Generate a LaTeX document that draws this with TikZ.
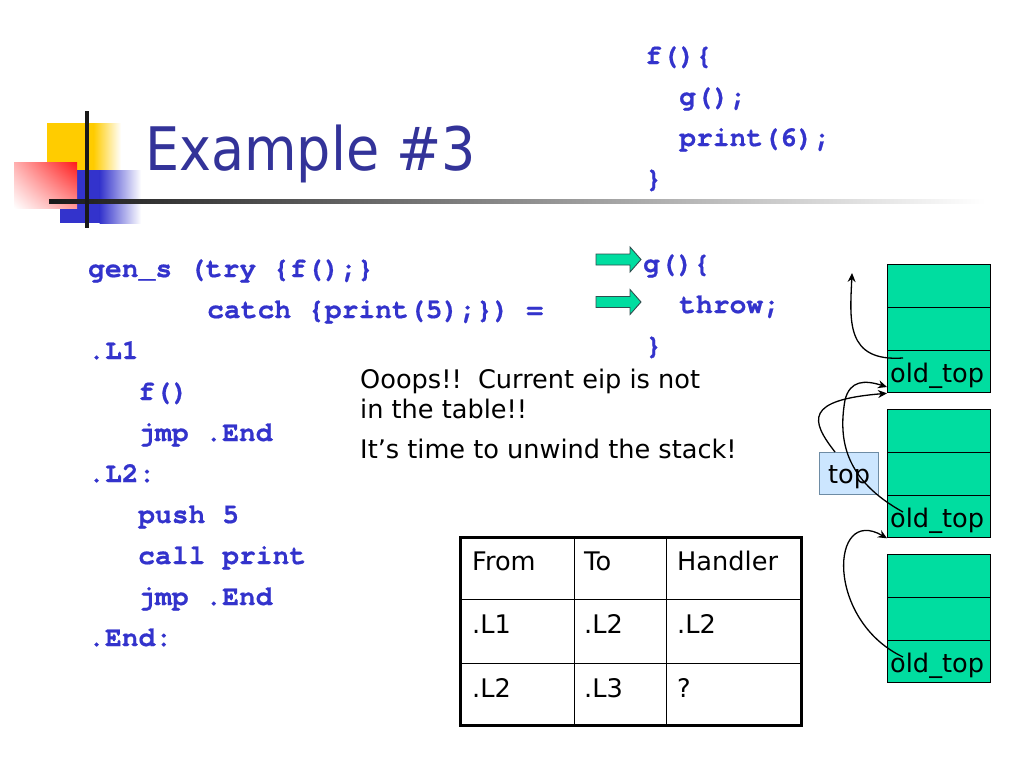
\documentclass[tikz,border=0pt]{standalone}
\usepackage{fontspec}
\setmainfont{DejaVu Sans}
\newfontfamily\titlefont{DejaVu Sans Condensed}
\newfontfamily\codefont{TeX Gyre Cursor}[BoldFeatures={FakeBold=0.6}]
\usetikzlibrary{arrows.meta,shadings}
\definecolor{codeblue}{HTML}{3333CC}
\definecolor{titleblue}{HTML}{333399}
\definecolor{stackgreen}{HTML}{00DDA0}
\definecolor{topblue}{HTML}{CCE6FF}
\definecolor{topborder}{HTML}{6E8CA5}
\definecolor{logoyellow}{HTML}{FFCC00}
\definecolor{logoblue}{HTML}{3333CC}
\definecolor{logored}{HTML}{FF1A1A}
\definecolor{arrowborder}{HTML}{2F4F4F}
\begin{document}
\begin{tikzpicture}[x=1pt,y=-1pt,
  code/.style={anchor=base west, inner sep=0pt, font=\codefont\bfseries\fontsize{28}{28}\selectfont, text=codeblue},
  prose/.style={anchor=base west, inner sep=0pt, font=\fontsize{25.6}{30}\selectfont},
  cell/.style={draw=black, line width=0.9pt, fill=stackgreen, minimum width=103pt, minimum height=42.8pt, inner sep=0pt, anchor=north west},
  tcell/.style={draw=black, line width=0.9pt, inner sep=0pt, anchor=north west},
  conn/.style={draw=black, line width=1.3pt, -{Stealth[length=9pt,width=8pt]}},
  garrow/.style={fill=stackgreen, draw=arrowborder, line width=0.9pt, line join=miter}
]
\useasboundingbox (0,0) rectangle (1024,768);
\fill[white] (0,0) rectangle (1024,768);

% logo
\fill[logoyellow] (47,123) rectangle (94,170);
\shade[left color=logoyellow, right color=white] (93.5,123) rectangle (121,170);
\fill[logoblue] (60,170) rectangle (100,223);
\shade[left color=logoblue, right color=white] (99.5,170) rectangle (141,223);
\shade[upper left=logored!35!white, upper right=logored, lower left=white, lower right=logored!45!white] (14,162) rectangle (77,208);
\shade[left color=black!90, right color=white] (49,199) rectangle (985,203);
\fill[black!90] (85,111) rectangle (89,228);

% title
\node[anchor=base west, inner sep=0pt, font=\titlefont\fontsize{60}{60}\selectfont, text=titleblue] (title) at (145,170) {Example \#3};

% right code
\node[code] (f1) at (645,64) {f()\{};
\node[code] (f2) at (679,105) {g();};
\node[code] (f3) at (679,146) {print(6);};
\node[code] (f4) at (645,187) {\}};
\node[code] (g1) at (643,272) {g()\{};
\node[code] (g2) at (679,313) {throw;};
\node[code] (g3) at (645,354) {\}};

% green arrows
\draw[garrow] (596,254) -- (630,254) -- (630,247) -- (641,259.5) -- (630,272) -- (630,265) -- (596,265) -- cycle;
\draw[garrow] (596,296.5) -- (630,296.5) -- (630,289.5) -- (641,302) -- (630,314.5) -- (630,307.5) -- (596,307.5) -- cycle;

% left code
\node[code] (l1) at (88,277) {gen\_s (try \{f();\}};
\node[code] (l2) at (207,318) {catch \{print(5);\}) =};
\node[code] (l3) at (88,359) {.L1};
\node[code] (l4) at (138,400) {f()};
\node[code] (l5) at (138,441) {jmp .End};
\node[code] (l6) at (88,482) {.L2:};
\node[code] (l7) at (138,523) {push 5};
\node[code] (l8) at (138,564) {call print};
\node[code] (l9) at (138,605) {jmp .End};
\node[code] (l10) at (88,646) {.End:};

% message
\node[prose] (m1) at (360,388) {Ooops!!\ \ Current eip is not};
\node[prose] (m2) at (360,418) {in the table!!};
\node[prose] (m3) at (360,458) {It’s time to unwind the stack!};

% table
\node[tcell, minimum width=114pt, minimum height=62pt] (c11) at (460,537) {};
\node[tcell, minimum width=92pt, minimum height=62pt] (c12) at (574,537) {};
\node[tcell, minimum width=135pt, minimum height=62pt] (c13) at (666,537) {};
\node[tcell, minimum width=114pt, minimum height=64pt] (c21) at (460,599) {};
\node[tcell, minimum width=92pt, minimum height=64pt] (c22) at (574,599) {};
\node[tcell, minimum width=135pt, minimum height=64pt] (c23) at (666,599) {};
\node[tcell, minimum width=114pt, minimum height=62pt] (c31) at (460,663) {};
\node[tcell, minimum width=92pt, minimum height=62pt] (c32) at (574,663) {};
\node[tcell, minimum width=135pt, minimum height=62pt] (c33) at (666,663) {};
\draw[line width=3pt, line join=miter] (c11.north west) rectangle (c33.south east);
\node[prose] (x11) at (472,570) {From};
\node[prose] (x12) at (584,570) {To};
\node[prose] (x13) at (677,570) {Handler};
\node[prose] (x21) at (472,633) {.L1};
\node[prose] (x22) at (584,633) {.L2};
\node[prose] (x23) at (677,633) {.L2};
\node[prose] (x31) at (472,697) {.L2};
\node[prose] (x32) at (584,697) {.L3};
\node[prose] (x33) at (677,697) {?};

% stack
\node[cell] (a1) at (887,264) {};
\node[cell] (a2) at (887,306.8) {};
\node[cell] (a3) at (887,349.6) {};
\node[cell] (b1) at (887,409) {};
\node[cell] (b2) at (887,451.8) {};
\node[cell] (b3) at (887,494.6) {};
\node[cell] (d1) at (887,554) {};
\node[cell] (d2) at (887,596.8) {};
\node[cell] (d3) at (887,639.6) {};
\node[prose] (ta) at (890,382) {old\_top};
\node[prose] (tb) at (890,527) {old\_top};
\node[prose] (td) at (890,672) {old\_top};

\node[draw=topborder, fill=topblue, line width=0.8pt, minimum width=59pt, minimum height=42pt, inner sep=0pt, anchor=north west] (top) at (819,452) {};
\node[prose] (toptext) at (828,483) {top};

% connectors
\coordinate (s1) at (903,358);
\coordinate (e1) at (852,273);
\coordinate (s2) at (835,452);
\coordinate (s3) at (903,512);
\coordinate (e3) at (887,387);
\coordinate (s4) at (903,657);
\draw[conn] (s1) .. controls (845,362) and (850,320) .. (e1);
\draw[conn] (s2) .. controls (810,420) and (805,400) .. (a3.south west);
\draw[conn] (s3) .. controls (845,480) and (838,440) .. (845,400) .. controls (850,380) and (865,380) .. (e3);
\draw[conn] (s4) .. controls (825,620) and (830,505) .. (b3.south west);
\end{tikzpicture}
\end{document}
